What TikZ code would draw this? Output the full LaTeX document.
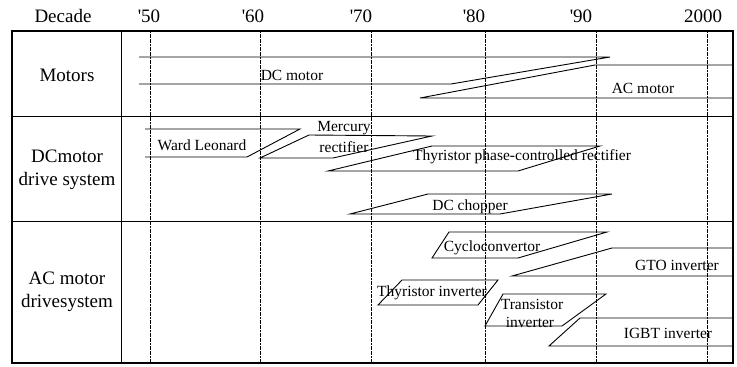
\documentclass[tikz,border=0pt]{standalone}
\usepackage{fontspec}
\setmainfont{Liberation Serif}

\begin{document}
\begin{tikzpicture}[x=1pt,y=-1pt,
    lab/.style={font=\fontsize{15.5}{18}\selectfont,inner sep=0pt,align=center},
    head/.style={font=\fontsize{19}{23}\selectfont,inner sep=0pt,align=center},
    bar/.style={line width=0.9pt},
    rule/.style={line width=0.9pt},
    grid/.style={line width=0.6pt,dash pattern=on 2pt off 0.6pt}]
    \useasboundingbox (0,0) rectangle (737,367);

    \draw[rule](12,116)--(733,116);
    \draw[rule](12,221)--(733,221);
    \draw[rule](121,31)--(121,363);
    \foreach \x in {150,260,371,485,596,707}
        \draw[grid](\x,31)--(\x,363);
    \draw[line width=1.8pt](12,31) rectangle (733,363);

    \node[head] (decade) at (63,16) {Decade};
    \foreach \x/\t in {149/\textquotesingle50,253/\textquotesingle60,361/\textquotesingle70,
                       474/\textquotesingle80,581/\textquotesingle90,703/2000}
        \node[head] (d\x) at (\x,16) {\t};

    \node[head] (motors) at (67,75) {Motors};
    \node[head] (dcdrive) at (67,170) {DCmotor\\drive system};
    \node[head] (acdrive) at (67,292) {AC motor\\drivesystem};

    \draw[bar](139,57)--(610,57)--(451,84)--(139,84);
    \node[lab] (dcmotor) at (292,75) {DC motor};
    \draw[bar](733,65)--(595,65)--(420,98)--(733,98);
    \node[lab] (acmotor) at (643,88) {AC motor};

    \draw[bar](145,129)--(300,129)--(247,157)--(145,157);
    \node[lab] (ward) at (202,145) {Ward Leonard};
    \draw[bar](260,158)--(309,135)--(432,136)--(333,158)--cycle;
    \node[lab] (mercury) at (344,128) {Mercury};
    \node[lab] (rectifier) at (344,147) {rectifier};
    \draw[bar](328,171)--(432,146)--(600,146)--(518,171)--cycle;
    \node[lab] (thyrect) at (522,157) {Thyristor phase-controlled rectifier};
    \draw[bar](350,214)--(428,194)--(612,194)--(500,214)--cycle;
    \node[lab] (chopper) at (470,207) {DC chopper};

    \draw[bar](432,258)--(449,232)--(607,232)--(518,258)--cycle;
    \node[lab] (cyclo) at (492,248) {Cycloconvertor};
    \draw[bar](733,248)--(612,248)--(512,276)--(733,276);
    \node[lab] (gto) at (677,265) {GTO inverter};
    \draw[bar](378,305)--(402,280)--(498,280)--(478,305)--cycle;
    \node[lab] (thyinv) at (432,293) {Thyristor inverter};
    \draw[bar](485,326)--(503,294)--(606,294)--(562,326)--cycle;
    \node[lab] (transistor) at (532,304) {Transistor};
    \node[lab] (transinv) at (530,322) {inverter};
    \draw[bar](733,318)--(580,318)--(549,346)--(733,346);
    \node[lab] (igbt) at (668,333) {IGBT inverter};
\end{tikzpicture}
\end{document}
